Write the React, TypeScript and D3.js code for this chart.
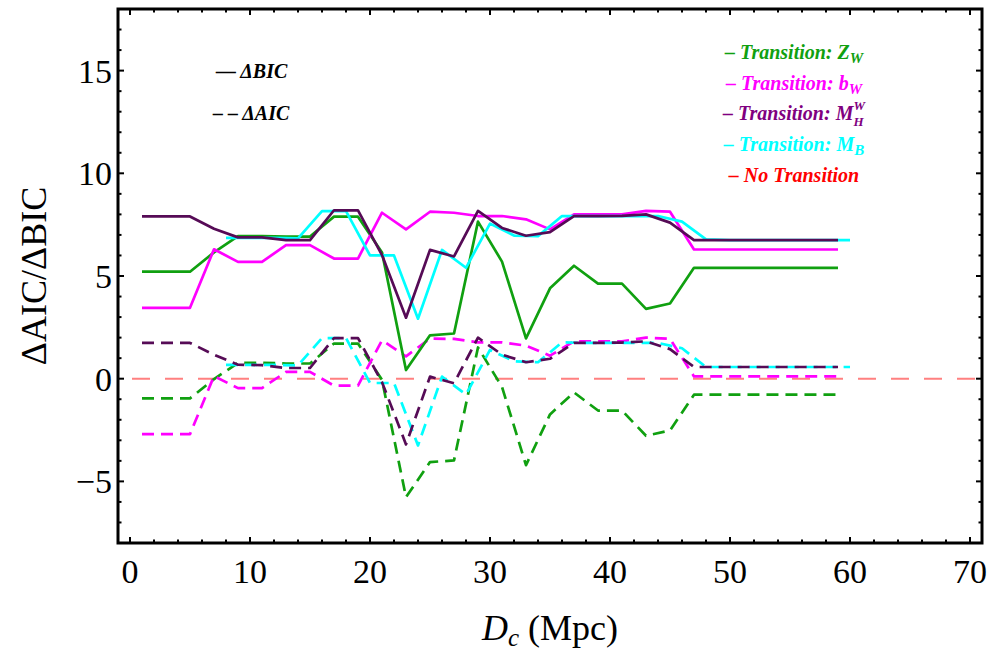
import React from 'react';
import * as d3 from 'd3';

const W = 1007;
const H = 652;

// x grids
const xOdd = [1, 3, 5, 7, 9, 11, 13, 15, 17, 19, 21, 23, 25, 27, 29, 31, 33, 35, 37, 39, 41, 43, 45, 47, 49, 51, 53, 55, 57, 59];
const xEven = [8, 10, 12, 14, 16, 18, 20, 22, 24, 26, 28, 30, 32, 34, 36, 38, 40, 42, 44, 46, 48, 50, 52, 54, 56, 58, 60];

// Transition: Z_W
const zwBIC = [5.21, 5.21, 5.21, 6.15, 6.94, 6.94, 6.92, 6.92, 7.89, 7.89, 6.15, 0.42, 2.11, 2.2, 7.65, 5.7, 1.96, 4.4, 5.5, 4.63, 4.63, 3.4, 3.66, 5.4, 5.4, 5.4, 5.4, 5.4, 5.4, 5.4];
const zwAIC = [-0.96, -0.96, -0.96, -0.02, 0.77, 0.77, 0.74, 0.74, 1.71, 1.71, -0.05, -5.77, -4.06, -3.98, 1.52, -0.4, -4.21, -1.74, -0.67, -1.55, -1.55, -2.78, -2.52, -0.78, -0.78, -0.78, -0.78, -0.78, -0.78, -0.78];
// Transition: b_W
const bwBIC = [3.45, 3.45, 3.45, 6.3, 5.69, 5.69, 6.5, 6.5, 5.85, 5.85, 8.08, 7.27, 8.13, 8.08, 7.92, 7.92, 7.76, 7.27, 8.0, 8.0, 8.0, 8.17, 8.13, 6.29, 6.29, 6.29, 6.29, 6.29, 6.29, 6.29];
const bwAIC = [-2.7, -2.7, -2.7, 0.13, -0.46, -0.46, 0.33, 0.33, -0.34, -0.34, 1.87, 1.09, 1.95, 1.94, 1.77, 1.77, 1.61, 1.12, 1.82, 1.82, 1.82, 2.0, 1.94, 0.11, 0.11, 0.11, 0.11, 0.11, 0.11, 0.11];
// Transition: M_H^W
const mhBIC = [7.9, 7.9, 7.9, 7.3, 6.88, 6.88, 6.75, 6.75, 8.2, 8.2, 6.02, 2.97, 6.27, 5.95, 8.17, 7.34, 6.96, 7.14, 7.92, 7.92, 7.93, 8.0, 7.6, 6.75, 6.75, 6.75, 6.75, 6.75, 6.75, 6.75];
const mhAIC = [1.74, 1.74, 1.74, 1.17, 0.68, 0.66, 0.52, 0.52, 1.98, 1.98, -0.17, -3.2, 0.1, -0.22, 2.0, 1.17, 0.8, 0.97, 1.74, 1.74, 1.76, 1.82, 1.44, 0.57, 0.57, 0.57, 0.57, 0.57, 0.57, 0.57];
// Transition: M_B
const mbBIC = [6.86, 6.86, 6.86, 6.83, 8.16, 8.16, 6.0, 6.0, 2.92, 6.27, 5.4, 7.55, 6.97, 6.94, 7.92, 7.92, 7.92, 7.92, 7.92, 7.65, 6.78, 6.75, 6.75, 6.75, 6.75, 6.75, 6.75];
const mbAIC = [0.67, 0.67, 0.67, 0.65, 1.98, 1.98, -0.21, -0.21, -3.25, 0.1, -0.77, 1.4, 0.85, 0.8, 1.77, 1.74, 1.74, 1.74, 1.74, 1.48, 0.57, 0.57, 0.57, 0.57, 0.57, 0.57, 0.57];
// No transition reference
const noTransition = 0;

const xTicksMajor = [0, 10, 20, 30, 40, 50, 60, 70];
const yTicksMajor = [-5, 0, 5, 10, 15];

const GREEN = '#10a010';
const MAGENTA = '#ff00ff';
const PURPLE_LINE = '#560b56';
const PURPLE_TEXT = '#800080';
const CYAN = '#00ffff';
const RED = '#ff0000';
const RED_LINE = '#ff8080';

const FONT = '"Liberation Serif", "Times New Roman", serif';

export default function App() {
  const left = 118, right = 982, top = 9, bottom = 543;
  const x = d3.scaleLinear().domain([-1, 71]).range([left, right]);
  const y = d3.scaleLinear().domain([-8, 18]).range([bottom, top]);

  const mk = (xs: number[], ys: number[]) =>
    d3.line<number>().x((_, i) => x(xs[i])).y((d) => y(d))(ys) || '';

  const series = [
    { xs: xOdd, bic: zwBIC, aic: zwAIC, color: GREEN },
    { xs: xOdd, bic: bwBIC, aic: bwAIC, color: MAGENTA },
    { xs: xEven, bic: mbBIC, aic: mbAIC, color: CYAN },
    { xs: xOdd, bic: mhBIC, aic: mhAIC, color: PURPLE_LINE },
  ];

  const xMinor = d3.range(0, 71, 2).filter((v) => v % 10 !== 0);
  const yMinor = d3.range(-7, 19, 1).filter((v) => v % 5 !== 0);
  const MJ = 6, MN = 3.5;

  const tickStyle = { stroke: '#000', strokeWidth: 2 };

  return (
    <svg width={W} height={H} style={{ position: 'absolute', left: 0, top: 0, background: '#fff' }} fontFamily={FONT}>
      <rect x={0} y={0} width={W} height={H} fill="#fff" />
      <defs>
        <clipPath id="plotclip">
          <rect x={left} y={top} width={right - left} height={bottom - top} />
        </clipPath>
      </defs>
      <g clipPath="url(#plotclip)">
        <line x1={left} x2={right} y1={y(noTransition)} y2={y(noTransition)} stroke={RED_LINE} strokeWidth={2} strokeDasharray="18,15" strokeDashoffset={-14} />
        {series.map((s, i) => (
          <path key={'a' + i} d={mk(s.xs, s.aic)} fill="none" stroke={s.color} strokeWidth={2.7} strokeDasharray="12,7" strokeLinejoin="round" />
        ))}
        {series.map((s, i) => (
          <path key={'b' + i} d={mk(s.xs, s.bic)} fill="none" stroke={s.color} strokeWidth={2.7} strokeLinejoin="round" />
        ))}
      </g>
      {/* ticks */}
      {xTicksMajor.map((v) => (
        <g key={'xt' + v}>
          <line x1={x(v)} x2={x(v)} y1={bottom} y2={bottom - MJ} {...tickStyle} />
          <line x1={x(v)} x2={x(v)} y1={top} y2={top + MJ} {...tickStyle} />
          <text x={x(v)} y={583} textAnchor="middle" fontSize={34}>{v}</text>
        </g>
      ))}
      {xMinor.map((v) => (
        <g key={'xm' + v}>
          <line x1={x(v)} x2={x(v)} y1={bottom} y2={bottom - MN} {...tickStyle} />
          <line x1={x(v)} x2={x(v)} y1={top} y2={top + MN} {...tickStyle} />
        </g>
      ))}
      {yTicksMajor.map((v) => (
        <g key={'yt' + v}>
          <line x1={left} x2={left + MJ} y1={y(v)} y2={y(v)} {...tickStyle} />
          <line x1={right} x2={right - MJ} y1={y(v)} y2={y(v)} {...tickStyle} />
          <text x={112} y={y(v) + 12} textAnchor="end" fontSize={34}>{v < 0 ? '\u2212' + Math.abs(v) : v}</text>
        </g>
      ))}
      {yMinor.map((v) => (
        <g key={'ym' + v}>
          <line x1={left} x2={left + MN} y1={y(v)} y2={y(v)} {...tickStyle} />
          <line x1={right} x2={right - MN} y1={y(v)} y2={y(v)} {...tickStyle} />
        </g>
      ))}
      {/* frame */}
      <rect x={left} y={top} width={right - left} height={bottom - top} fill="none" stroke="#000" strokeWidth={3} />

      {/* axis labels */}
      <text x={(left + right) / 2} y={640} textAnchor="middle" fontSize={36}>
        <tspan fontStyle="italic">D</tspan>
        <tspan fontStyle="italic" fontSize={25} dy={6}>c</tspan>
        <tspan dy={-6}> (Mpc)</tspan>
      </text>
      <text transform={`translate(46,${(top + bottom) / 2}) rotate(-90)`} textAnchor="middle" fontSize={36}>ΔAIC/ΔBIC</text>

      {/* left legend */}
      <g fontWeight="bold" fontStyle="italic" fontSize={20}>
        <text x={216} y={78}>— ΔBIC</text>
        <text x={213} y={120}>– – ΔAIC</text>
      </g>

      {/* right legend */}
      <g fontWeight="bold" fontStyle="italic" fontSize={20} textAnchor="middle">
        <text x={794} y={59} fill={GREEN}>
          – Transition: Z<tspan fontSize={15} dy={4}>W</tspan>
        </text>
        <text x={794} y={89.5} fill={MAGENTA}>
          – Transition: b<tspan fontSize={15} dy={4}>W</tspan>
        </text>
        <text x={794} y={120} fill={PURPLE_TEXT}>
          – Transition: M<tspan fontSize={13} dy={-10}>W</tspan><tspan fontSize={13} dx={-11.5} dy={16}>H</tspan>
        </text>
        <text x={794} y={151} fill={CYAN}>
          – Transition: M<tspan fontSize={15} dy={4}>B</tspan>
        </text>
        <text x={794} y={181.5} fill={RED}>– No Transition</text>
      </g>
    </svg>
  );
}
